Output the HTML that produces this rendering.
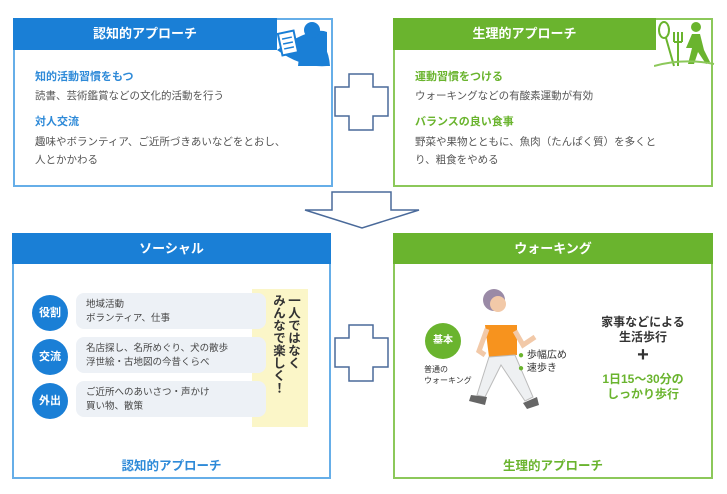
<!DOCTYPE html>
<html><head><meta charset="utf-8"><style>
*{margin:0;padding:0;box-sizing:border-box}
body{width:727px;height:494px;background:#fff;position:relative;overflow:hidden;font-family:"Liberation Sans","Noto Sans CJK JP",sans-serif}
.a{position:absolute}
.hd{position:absolute;color:#fff;font-weight:bold;font-size:13px;text-align:center;line-height:32px}
.t{position:absolute;font-size:10.5px;color:#555;line-height:17px;white-space:nowrap}
.bt{font-weight:bold;font-size:11px}
.pill{position:absolute;left:76px;width:190px;height:36px;background:#edf1f6;border-radius:8px;font-size:9.5px;color:#444;line-height:14px;padding:5px 0 0 10px}
.circ{position:absolute;left:32px;width:36px;height:36px;border-radius:50%;background:#1a7fd6;color:#fff;font-weight:bold;font-size:11px;text-align:center;line-height:36px}
</style></head><body>
<!-- top left -->
<div class="a" style="left:13px;top:18px;width:320px;height:169px;border:2px solid #66aee8"></div>
<div class="hd" style="left:13px;top:18px;width:264px;height:32px;background:#1a7fd6">認知的アプローチ</div>
<svg class="a" style="left:272px;top:18px" width="62" height="50"><path d="M5 32 Q30 50 55 48 L55 14 Q40 8 5 32Z" fill="#1a7fd6"/><circle cx="40" cy="12" r="8" fill="#1a7fd6"/><path d="M26 48 Q28 24 42 22 Q56 24 58 48Z" fill="#1a7fd6"/><rect x="8" y="14" width="16" height="22" fill="#fff" stroke="#1a7fd6" stroke-width="2" transform="rotate(-12 16 25)"/><path d="M11 20h10M11 25h10M11 30h10" stroke="#1a7fd6" stroke-width="1.5" transform="rotate(-12 16 25)"/></svg>
<div class="t bt" style="left:35px;top:69px;color:#2e8ad8">知的活動習慣をもつ</div>
<div class="t" style="left:35px;top:88px">読書、芸術鑑賞などの文化的活動を行う</div>
<div class="t bt" style="left:35px;top:114px;color:#2e8ad8">対人交流</div>
<div class="t" style="left:35px;top:134px">趣味やボランティア、ご近所づきあいなどをとおし、</div>
<div class="t" style="left:35px;top:152px">人とかかわる</div>
<!-- top right -->
<div class="a" style="left:393px;top:18px;width:320px;height:169px;border:2px solid #8cc85a"></div>
<div class="hd" style="left:393px;top:18px;width:263px;height:32px;background:#6ab42e">生理的アプローチ</div>
<svg class="a" style="left:654px;top:18px" width="62" height="50"><ellipse cx="10" cy="12" rx="5" ry="8" fill="#fff" stroke="#6ab42e" stroke-width="2"/><path d="M12 20 L20 48" stroke="#6ab42e" stroke-width="2"/><path d="M20 14v10M24 14v10M28 14v10M20 24h8M24 24v24" stroke="#6ab42e" stroke-width="2" fill="none"/><circle cx="42" cy="9" r="5" fill="#6ab42e"/><path d="M38 16 L46 16 L50 32 L56 44 L52 46 L44 34 L40 46 L34 46 L38 30 L32 30 Z" fill="#6ab42e"/><path d="M0 48 Q30 40 60 46" stroke="#8cc85a" stroke-width="2" fill="none"/></svg>
<div class="t bt" style="left:415px;top:69px;color:#6ab42e">運動習慣をつける</div>
<div class="t" style="left:415px;top:88px">ウォーキングなどの有酸素運動が有効</div>
<div class="t bt" style="left:415px;top:114px;color:#6ab42e">バランスの良い食事</div>
<div class="t" style="left:415px;top:134px">野菜や果物とともに、魚肉（たんぱく質）を多くと</div>
<div class="t" style="left:415px;top:152px">り、粗食をやめる</div>
<!-- plus & arrow -->
<svg class="a" style="left:0;top:0" width="727" height="494">
<path d="M349 74H373V87H388V116H373V130H349V116H335V87H349Z" fill="#fff" stroke="#4a6a9a" stroke-width="1.5"/>
<path d="M349 325H373V338H388V367H373V381H349V367H335V338H349Z" fill="#fff" stroke="#4a6a9a" stroke-width="1.5"/>
<path d="M332 192H391V210H419L362 228L305 210H332Z" fill="#fff" stroke="#4a6a9a" stroke-width="1.5"/>
</svg>
<!-- bottom left -->
<div class="a" style="left:12px;top:233px;width:319px;height:246px;border:2px solid #66aee8"></div>
<div class="hd" style="left:12px;top:233px;width:319px;height:31px;background:#1a7fd6">ソーシャル</div>
<div class="a" style="left:252px;top:289px;width:56px;height:138px;background:#fbf6c8"></div>
<div class="a" style="left:264px;top:294px;width:36px;font-size:12.5px;font-weight:bold;color:#333;line-height:15px;writing-mode:vertical-rl">一人ではなく<br>みんなで楽しく！</div>
<div class="pill" style="top:293px">地域活動<br>ボランティア、仕事</div>
<div class="pill" style="top:337px">名店探し、名所めぐり、犬の散歩<br>浮世絵・古地図の今昔くらべ</div>
<div class="pill" style="top:381px">ご近所へのあいさつ・声かけ<br>買い物、散策</div>
<div class="circ" style="top:295px">役割</div>
<div class="circ" style="top:339px">交流</div>
<div class="circ" style="top:383px">外出</div>
<div class="a" style="left:12px;top:455px;width:319px;text-align:center;font-size:12.5px;font-weight:bold;color:#2e8ad8">認知的アプローチ</div>
<!-- bottom right -->
<div class="a" style="left:393px;top:233px;width:320px;height:246px;border:2px solid #8cc85a"></div>
<div class="hd" style="left:393px;top:233px;width:320px;height:31px;background:#6ab42e">ウォーキング</div>
<div class="a" style="left:425px;top:323px;width:36px;height:36px;border-radius:50%;background:#6ab42e;color:#fff;font-weight:bold;font-size:10px;text-align:center;line-height:36px">基本</div>
<div class="a" style="left:424px;top:364px;font-size:8px;color:#333;line-height:11px">普通の<br>ウォーキング</div>
<svg class="a" style="left:465px;top:285px" width="80" height="140">
<circle cx="29" cy="15" r="11" fill="#9a8aa6"/><circle cx="33" cy="19" r="8" fill="#f2c9a8"/>
<path d="M20 40 L52 40 L52 70 L24 72 Z" fill="#f7931e"/>
<path d="M22 44 L14 66 L20 70" stroke="#f2c9a8" stroke-width="5" fill="none"/>
<path d="M50 46 L58 60 L70 52" stroke="#f2c9a8" stroke-width="5" fill="none"/>
<path d="M24 72 L12 110 L20 112 L36 80 L60 116 L68 112 L50 70Z" fill="#eef0f2" stroke="#bbb"/>
<path d="M6 110 L22 112 L20 120 L4 116Z M58 118 L72 112 L74 120 L62 124Z" fill="#666"/>
</svg>
<div class="a" style="left:518px;top:349px;font-size:10px;color:#333;line-height:13px"><span style="color:#6ab42e">●</span> 歩幅広め<br><span style="color:#6ab42e">●</span> 速歩き</div>
<div class="a" style="left:578px;top:315px;width:130px;text-align:center;font-size:12px;font-weight:bold;color:#333;line-height:15px">家事などによる<br>生活歩行</div>
<div class="a" style="left:578px;top:345px;width:130px;text-align:center;font-size:20px;font-weight:bold;color:#333;line-height:20px">+</div>
<div class="a" style="left:578px;top:372px;width:130px;text-align:center;font-size:12px;font-weight:bold;color:#6ab42e;line-height:15px">1日15～30分の<br>しっかり歩行</div>
<div class="a" style="left:393px;top:455px;width:320px;text-align:center;font-size:12.5px;font-weight:bold;color:#6ab42e">生理的アプローチ</div>
</body></html>
